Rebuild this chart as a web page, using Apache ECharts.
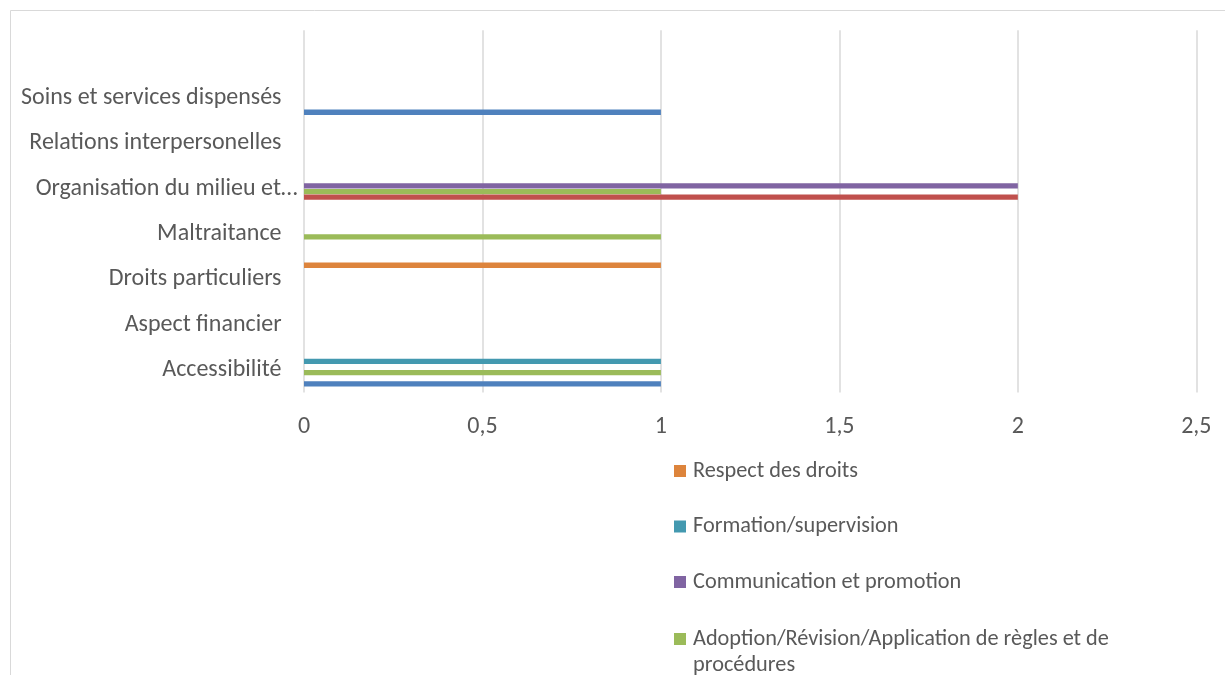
<!DOCTYPE html>
<html>
<head>
<meta charset="utf-8">
<script src="https://cdn.jsdelivr.net/npm/echarts@6/dist/echarts.min.js"></script>
<style>
  html, body { margin: 0; padding: 0; background: #ffffff; }
  #chart { width: 1225px; height: 675px; }
</style>
</head>
<body>
<div id="chart"></div>
<script>
// Categories, bottom to top (the last, empty one leaves a blank band at the top)
const categories = [
  'Accessibilité',
  'Aspect financier',
  'Droits particuliers',
  'Maltraitance',
  'Organisation du milieu et…',
  'Relations interpersonelles',
  'Soins et services dispensés',
  ''
];

// Values per category (null = no entry)
const respectDesDroits      = [null, null, 1, null, null, null, null, null];
const formationSupervision  = [1, null, null, null, null, null, null, null];
const communicationPromo    = [null, null, null, null, 2, null, null, null];
const adoptionRegles        = [1, null, null, 1, 1, null, null, null];
const serie2                = [null, null, null, null, 2, null, null, null];
const serie1                = [1, null, null, null, null, null, 1, null];

const xTicks = { min: 0, max: 2.5, interval: 0.5 };

const FONT = 'Carlito, Calibri, Lato, sans-serif';
const TXT = '#595959';

// Series listed top-to-bottom within each category band
const seriesDefs = [
  { name: 'Respect des droits', data: respectDesDroits, color: '#DD843C' },
  { name: 'Formation/supervision', data: formationSupervision, color: '#4399B0' },
  { name: 'Communication et promotion', data: communicationPromo, color: '#8064A2' },
  { name: 'Adoption/Révision/Application de règles et de procédures', data: adoptionRegles, color: '#9BBB59' },
  { name: 'Série 2', data: serie2, color: '#C0504D' },
  { name: 'Série 1', data: serie1, color: '#4F81BD' }
];

// Legend entries shown in the panel below the plot
const legendNames = [
  'Respect des droits',
  'Formation/supervision',
  'Communication et promotion',
  'Adoption/Révision/Application de règles et de procédures'
];
// The wrapped entry starts with an empty line so its first line sits beside the swatch
const legendLabels = [
  'Respect des droits',
  'Formation/supervision',
  'Communication et promotion',
  '\nAdoption/Révision/Application de règles et de\nprocédures'
];
const legendTops = [453, 508.5, 564, 595];

const chart = echarts.init(document.getElementById('chart'), null, { renderer: 'canvas' });

const legends = legendNames.map((name, i) => ({
  orient: 'vertical',
  left: 669,
  top: legendTops[i],
  icon: 'rect',
  itemWidth: 12,
  itemHeight: 12,
  selectedMode: false,
  data: [name],
  formatter: () => legendLabels[i],
  textStyle: { fontFamily: FONT, fontSize: 22.3, color: TXT, lineHeight: 26, padding: [0, 0, 0, 2] }
}));

// The truncated label overhangs the others slightly to the right
const yAxisData = categories.map(c =>
  c.endsWith('…') ? { value: c, textStyle: { padding: [0, -16, 0, 0] } } : c
);

const option = {
  backgroundColor: '#ffffff',
  animation: false,
  graphic: [{
    type: 'rect',
    shape: { x: 10.5, y: 10.5, width: 1400, height: 900 },
    style: { fill: 'none', stroke: '#D9D9D9', lineWidth: 1 },
    silent: true
  }],
  legend: legends,
  grid: { left: 304, right: 28.7, top: 30.3, bottom: 282.5, containLabel: false },
  xAxis: {
    type: 'value',
    min: xTicks.min,
    max: xTicks.max,
    interval: xTicks.interval,
    axisLine: { show: false },
    axisTick: { show: false },
    splitLine: { show: true, lineStyle: { color: '#D9D9D9', width: 1.5 } },
    axisLabel: {
      fontFamily: FONT, fontSize: 24, color: TXT, margin: 22,
      formatter: v => String(v).replace('.', ',')
    }
  },
  yAxis: {
    type: 'category',
    data: yAxisData,
    axisLine: { show: false },
    axisTick: { show: false },
    splitLine: { show: false },
    axisLabel: { fontFamily: FONT, fontSize: 24, color: TXT, margin: 22.5, interval: 0 }
  },
  series: seriesDefs.map(s => ({
    type: 'bar',
    name: s.name,
    data: s.data,
    barWidth: 5.3,
    barGap: '6%',
    itemStyle: { color: s.color },
    emphasis: { disabled: true }
  }))
};

chart.setOption(option);
</script>
</body>
</html>
